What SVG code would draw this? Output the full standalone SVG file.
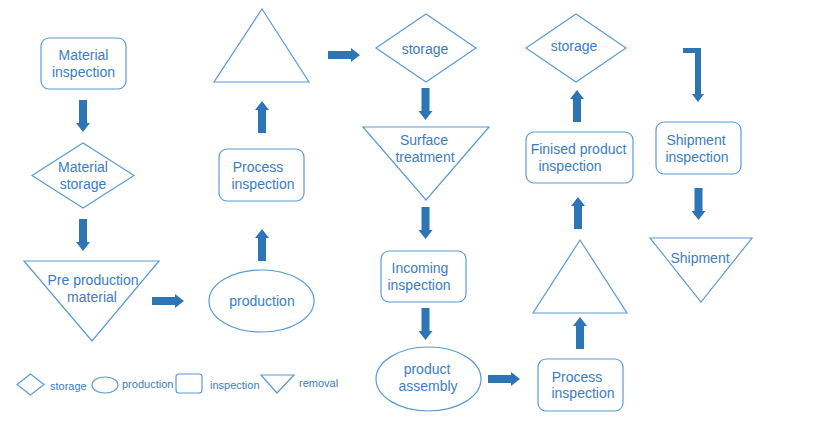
<svg xmlns="http://www.w3.org/2000/svg" width="825" height="434" viewBox="0 0 825 434">
<style>
.s{fill:#fff;stroke:#5B9BD5;stroke-width:1.2}
.t{font-family:"Liberation Sans",Arial,sans-serif;font-size:14px;fill:#3B7DC4;text-anchor:middle}
.l{font-family:"Liberation Sans",Arial,sans-serif;font-size:11px;fill:#3B7DC4}
.a{fill:#2E75B6}
</style>
<defs>
<path id="dn" d="M-4,0 H4 V23 H7 L0,32 L-7,23 H-4 Z"/>
</defs>
<rect width="825" height="434" fill="#fff"/>
<g id="connectors" class="a">
<use href="#dn" transform="translate(83,100)"/>
<use href="#dn" transform="translate(83,219)"/>
<use href="#dn" transform="translate(152,301) rotate(-90)"/>
<use href="#dn" transform="translate(262,261) rotate(180)"/>
<use href="#dn" transform="translate(262,133) rotate(180)"/>
<use href="#dn" transform="translate(328,55) rotate(-90)"/>
<use href="#dn" transform="translate(425.5,88)"/>
<use href="#dn" transform="translate(425.5,207)"/>
<use href="#dn" transform="translate(425.5,308)"/>
<use href="#dn" transform="translate(488,379) rotate(-90)"/>
<use href="#dn" transform="translate(580,349) rotate(180)"/>
<use href="#dn" transform="translate(578,229) rotate(180)"/>
<use href="#dn" transform="translate(577,122) rotate(180)"/>
<path d="M683,48 H701 V94 H704 L698,102 L692,94 H695 V53 H683 Z"/>
<use href="#dn" transform="translate(698.5,188)"/>
</g>
<g id="material-inspection"><rect class="s" x="41" y="38" width="85" height="51" rx="8"/><text class="t" x="83.5" y="60">Material</text><text class="t" x="83.5" y="77">inspection</text></g>
<g id="material-storage"><polygon class="s" points="32,175.5 83,143 134,175.5 83,208"/><text class="t" x="83" y="172">Material</text><text class="t" x="83" y="189">storage</text></g>
<g id="pre-production"><polygon class="s" points="24,261 159,261 92,341"/><text class="t" x="93" y="285">Pre production</text><text class="t" x="92" y="302">material</text></g>
<g id="production"><ellipse class="s" cx="261.5" cy="301" rx="52.5" ry="31"/><text class="t" x="262" y="306">production</text></g>
<g id="process-inspection-1"><rect class="s" x="219" y="149" width="85" height="52" rx="8"/><text class="t" x="258" y="172">Process</text><text class="t" x="263" y="189">inspection</text></g>
<g id="triangle-1"><polygon class="s" points="262,9 309,82 214,82"/></g>
<g id="storage-1"><polygon class="s" points="376,48 426,14 476,48 426,82"/><text class="t" x="425" y="54">storage</text></g>
<g id="surface-treatment"><polygon class="s" points="363,127 489,127 426,200"/><text class="t" x="424" y="145">Surface</text><text class="t" x="425" y="162">treatment</text></g>
<g id="incoming-inspection"><rect class="s" x="381" y="251" width="85" height="51" rx="8"/><text class="t" x="420" y="273">Incoming</text><text class="t" x="419" y="290">inspection</text></g>
<g id="product-assembly"><ellipse class="s" cx="428.5" cy="379" rx="52.5" ry="32"/><text class="t" x="427" y="374">product</text><text class="t" x="428" y="391">assembly</text></g>
<g id="process-inspection-2"><rect class="s" x="538" y="359" width="85" height="52" rx="8"/><text class="t" x="577" y="382">Process</text><text class="t" x="583" y="398">inspection</text></g>
<g id="triangle-2"><polygon class="s" points="580,240 627,313 533,313"/></g>
<g id="finished-inspection"><rect class="s" x="526" y="132" width="107" height="51" rx="8"/><text class="t" x="578.5" y="154">Finised product</text><text class="t" x="570" y="171">inspection</text></g>
<g id="storage-2"><polygon class="s" points="526,48 576,14 626,48 576,82"/><text class="t" x="574" y="51">storage</text></g>
<g id="shipment-inspection"><rect class="s" x="656" y="122" width="85" height="52" rx="8"/><text class="t" x="696" y="145">Shipment</text><text class="t" x="697" y="162">inspection</text></g>
<g id="shipment"><polygon class="s" points="650,238 752,238 701,302"/><text class="t" x="700" y="263">Shipment</text></g>
<g id="legend">
<polygon class="s" points="17,384.5 30.5,374 44,384.5 30.5,395"/>
<text class="l" x="50" y="390">storage</text>
<ellipse class="s" cx="105" cy="385" rx="13" ry="8"/>
<text class="l" x="122" y="388">production</text>
<rect class="s" x="176" y="374" width="26" height="19" rx="3"/>
<text class="l" x="210" y="389">inspection</text>
<polygon class="s" points="261,375 294,375 277,393"/>
<text class="l" x="299" y="387">removal</text>
</g>
</svg>
